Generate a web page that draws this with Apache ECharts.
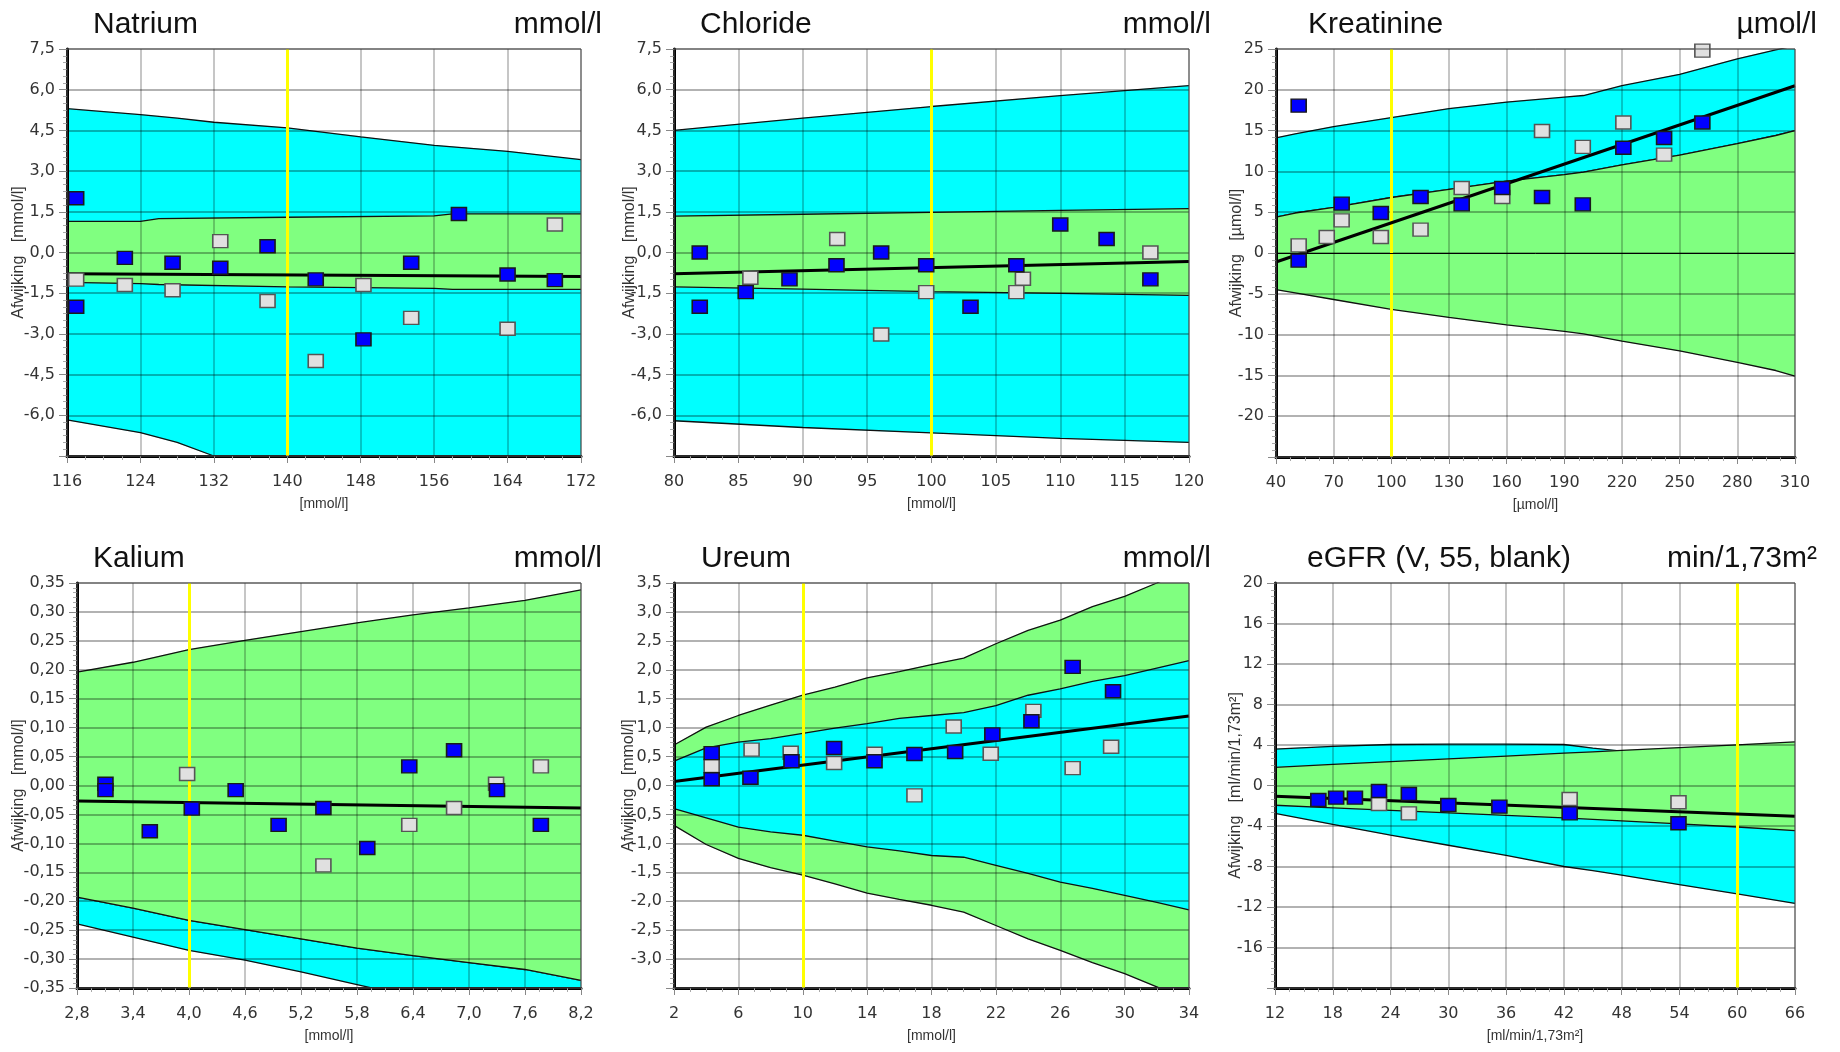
<!DOCTYPE html>
<html>
<head>
<meta charset="utf-8">
<script src="https://cdn.jsdelivr.net/npm/echarts@6/dist/echarts.min.js"></script>
<style>
html,body{margin:0;padding:0;background:#fff;}
#chart{width:1840px;height:1052px;}
</style>
</head>
<body>
<div id="chart"></div>
<script>
// ---------------- DATA ----------------
// Natrium
const natBandX   = [116, 124, 128, 132, 140, 148, 156, 164, 172];
const natOuterHi = [5.3, 5.08, 4.95, 4.8, 4.59, 4.26, 3.95, 3.73, 3.42];
const natOuterLo = [-6.17, -6.64, -7.0, -7.5, -8.3, -9.0, -9.6, -10.2, -10.8];
const natInnerX  = [116, 124, 126, 140, 156, 158, 172];
const natInnerHi = [1.15, 1.15, 1.25, 1.3, 1.35, 1.42, 1.42];
const natInnerLo = [-1.1, -1.15, -1.18, -1.27, -1.32, -1.36, -1.36];
const natRegX = [116, 172];
const natReg  = [-0.78, -0.88];
const natRef  = 140;
const natBlue = [[117.0, 2.0], [117.0, -2.0], [122.3, -0.2], [127.5, -0.38], [132.7, -0.56], [137.85, 0.23], [143.1, -0.99], [148.3, -3.2], [153.5, -0.38], [158.7, 1.42], [164.0, -0.81], [169.15, -1.02]];
const natGray = [[117.0, -1.0], [122.3, -1.2], [127.5, -1.39], [132.7, 0.42], [137.85, -1.79], [143.1, -4.0], [148.3, -1.2], [153.5, -2.41], [164.0, -2.81], [169.15, 1.03]];

// Chloride
const chlBandX   = [80, 90, 100, 110, 120];
const chlOuterHi = [4.5, 4.95, 5.38, 5.78, 6.15];
const chlOuterLo = [-6.2, -6.45, -6.65, -6.85, -7.0];
const chlInnerHi = [1.34, 1.41, 1.48, 1.55, 1.62];
const chlInnerLo = [-1.27, -1.35, -1.44, -1.51, -1.58];
const chlRegX = [80, 120];
const chlReg  = [-0.78, -0.33];
const chlRef  = 100;
const chlBlue = [[82.0, 0.0], [82.0, -2.0], [85.57, -1.46], [88.97, -0.99], [92.62, -0.47], [96.09, 0.0], [99.59, -0.47], [103.03, -2.0], [106.59, -0.47], [110.0, 1.03], [113.6, 0.5], [117.0, -0.99]];
const chlGray = [[85.93, -0.93], [92.68, 0.5], [96.09, -3.02], [99.59, -1.46], [106.59, -1.46], [107.1, -0.97], [117.0, 0.0]];

// Kreatinine
const kreBandX   = [40, 50, 70, 100, 130, 160, 190, 200, 220, 250, 280, 300, 310];
const kreOuterHi = [14.1, 14.6, 15.5, 16.6, 17.7, 18.5, 19.1, 19.3, 20.5, 21.9, 23.8, 24.9, 25.4];
const kreInnerHi = [4.4, 4.9, 5.6, 6.8, 7.8, 8.8, 9.6, 9.9, 10.8, 12.0, 13.4, 14.4, 15.0];
const kreInnerLo = [-4.5, -4.9, -5.7, -6.9, -7.9, -8.8, -9.6, -9.9, -10.8, -12.0, -13.4, -14.4, -15.1];
const kreRegX = [40, 310];
const kreReg  = [-1.1, 20.5];
const kreRef  = 100;
const kreBlue = [[51.8, 18.06], [51.8, -0.94], [74.15, 6.05], [94.5, 4.9], [115.2, 6.86], [136.6, 5.96], [157.7, 7.97], [178.4, 6.86], [199.6, 5.96], [220.7, 12.9], [241.9, 14.1], [261.8, 16.0]];
const kreGray = [[51.8, 0.94], [66.4, 1.96], [74.15, 4.0], [94.5, 1.96], [115.2, 2.86], [136.6, 7.97], [157.7, 6.86], [178.4, 14.95], [199.6, 13.0], [220.7, 16.0], [241.9, 12.05], [261.8, 24.8]];

// Kalium
const kalBandX   = [2.8, 3.4, 4.0, 4.6, 5.2, 5.8, 6.4, 7.0, 7.6, 8.2];
const kalInnerHi = [0.196, 0.213, 0.235, 0.251, 0.266, 0.281, 0.295, 0.307, 0.32, 0.338];
const kalInnerLo = [-0.193, -0.212, -0.233, -0.249, -0.265, -0.281, -0.294, -0.306, -0.318, -0.337];
const kalOuterLo = [-0.239, -0.262, -0.285, -0.302, -0.322, -0.344, -0.366, -0.386, -0.405, -0.425];
const kalRegX = [2.8, 8.2];
const kalReg  = [-0.027, -0.039];
const kalRef  = 4.0;
const kalBlue = [[3.105, 0.003], [3.105, -0.008], [3.58, -0.079], [4.03, -0.04], [4.50, -0.008], [4.96, -0.068], [5.44, -0.039], [5.91, -0.108], [6.36, 0.033], [6.84, 0.061], [7.30, -0.008], [7.77, -0.068]];
const kalGray = [[3.98, 0.02], [5.44, -0.138], [6.36, -0.068], [6.84, -0.039], [7.29, 0.003], [7.77, 0.033]];

// Ureum
const ureBandX   = [2, 4, 6, 8, 10, 12, 14, 16, 18, 20, 22, 24, 26, 28, 30, 32, 34];
const ureOuterHi = [0.70, 1.01, 1.21, 1.39, 1.56, 1.70, 1.86, 1.97, 2.09, 2.20, 2.45, 2.68, 2.86, 3.09, 3.27, 3.50, 3.75];
const ureOuterLo = [-0.69, -1.02, -1.26, -1.42, -1.55, -1.70, -1.86, -1.97, -2.07, -2.19, -2.42, -2.65, -2.85, -3.06, -3.25, -3.48, -3.72];
const ureInnerHi = [0.42, 0.65, 0.75, 0.81, 0.90, 0.99, 1.07, 1.16, 1.21, 1.26, 1.38, 1.56, 1.67, 1.80, 1.90, 2.03, 2.16];
const ureInnerLo = [-0.40, -0.56, -0.72, -0.80, -0.86, -0.96, -1.06, -1.13, -1.21, -1.24, -1.38, -1.52, -1.67, -1.78, -1.90, -2.02, -2.15];
const ureRegX = [2, 34];
const ureReg  = [0.07, 1.2];
const ureRef  = 10;
const ureBlue = [[4.34, 0.56], [4.34, 0.107], [6.75, 0.135], [9.30, 0.418], [11.95, 0.648], [14.46, 0.418], [16.94, 0.545], [19.47, 0.58], [21.78, 0.884], [24.21, 1.11], [26.77, 2.05], [29.28, 1.63]];
const ureGray = [[4.34, 0.337], [6.82, 0.62], [9.25, 0.567], [11.95, 0.389], [14.46, 0.55], [16.94, -0.17], [19.38, 1.02], [21.68, 0.55], [24.33, 1.29], [26.77, 0.30], [29.16, 0.67]];

// eGFR
const egfBandX   = [12, 18, 24, 30, 36, 42, 45, 48, 54, 60, 66];
const egfOuterHi = [3.6, 3.87, 4.05, 4.08, 4.08, 4.05, 3.7, 3.4, 3.2, 3.0, 2.8];
const egfOuterLo = [-2.75, -3.85, -4.9, -5.9, -6.9, -8.0, -8.4, -8.85, -9.8, -10.7, -11.65];
const egfInnerHi = [1.8, 2.08, 2.36, 2.63, 2.91, 3.19, 3.33, 3.47, 3.74, 4.02, 4.3];
const egfInnerLo = [-1.95, -2.2, -2.45, -2.7, -2.95, -3.2, -3.35, -3.5, -3.8, -4.1, -4.45];
const egfRegX = [12, 66];
const egfReg  = [-1.05, -3.03];
const egfRef  = 60;
const egfBlue = [[16.5, -1.43], [18.35, -1.2], [20.3, -1.2], [22.8, -0.54], [25.9, -0.84], [30.0, -1.93], [35.3, -2.09], [42.6, -2.75], [53.9, -3.73]];
const egfGray = [[22.8, -1.83], [25.9, -2.75], [42.6, -1.33], [53.9, -1.66]];

// ---------------- STYLE / LAYOUT ----------------
const CYAN = '#00ffff';
const GREEN = '#80ff80';
const LFONT = 'DejaVu Sans';
const TFONT = 'Liberation Sans';

const panels = [
  {title: 'Natrium', unit: 'mmol/l', xName: '[mmol/l]', yName: 'Afwijking   [mmol/l]',
   grid: {left: 67, top: 49, width: 514, height: 407}, titleLeft: 93, unitRight: 1238, titleTop: 10,
   x: {min: 116, max: 172, interval: 8, dec: 0}, y: {min: -7.5, max: 7.5, interval: 1.5, dec: 1, hideMin: true},
   xMargin: 18, xNameGap: 41, yNameGap: 40,
   bands: [{x: natBandX, lo: natOuterLo, hi: natOuterHi, color: CYAN}, {x: natInnerX, lo: natInnerLo, hi: natInnerHi, color: GREEN}],
   regX: natRegX, reg: natReg, ref: natRef, blue: natBlue, gray: natGray},
  {title: 'Chloride', unit: 'mmol/l', xName: '[mmol/l]', yName: 'Afwijking   [mmol/l]',
   grid: {left: 674, top: 49, width: 515, height: 407}, titleLeft: 700, unitRight: 629, titleTop: 10,
   x: {min: 80, max: 120, interval: 5, dec: 0}, y: {min: -7.5, max: 7.5, interval: 1.5, dec: 1, hideMin: true},
   xMargin: 18, xNameGap: 41, yNameGap: 36,
   bands: [{x: chlBandX, lo: chlOuterLo, hi: chlOuterHi, color: CYAN}, {x: chlBandX, lo: chlInnerLo, hi: chlInnerHi, color: GREEN}],
   regX: chlRegX, reg: chlReg, ref: chlRef, blue: chlBlue, gray: chlGray},
  {title: 'Kreatinine', unit: 'µmol/l', xName: '[µmol/l]', yName: 'Afwijking   [µmol/l]',
   grid: {left: 1276, top: 49, width: 519, height: 408}, titleLeft: 1308, unitRight: 23, titleTop: 10,
   x: {min: 40, max: 310, interval: 30, dec: 0}, y: {min: -25, max: 25, interval: 5, dec: 0, hideMin: true},
   xMargin: 18, xNameGap: 41, yNameGap: 31, zeroLine: true,
   bands: [{x: kreBandX, lo: kreInnerHi, hi: kreOuterHi, color: CYAN}, {x: kreBandX, lo: kreInnerLo, hi: kreInnerHi, color: GREEN}],
   regX: kreRegX, reg: kreReg, ref: kreRef, blue: kreBlue, gray: kreGray},
  {title: 'Kalium', unit: 'mmol/l', xName: '[mmol/l]', yName: 'Afwijking   [mmol/l]',
   grid: {left: 77, top: 583, width: 504, height: 405}, titleLeft: 93, unitRight: 1238, titleTop: 544,
   x: {min: 2.8, max: 8.2, interval: 0.6, dec: 1}, y: {min: -0.35, max: 0.35, interval: 0.05, dec: 2, hideMin: false},
   xMargin: 18, xNameGap: 41, yNameGap: 50,
   bands: [{x: kalBandX, lo: kalOuterLo, hi: kalInnerLo, color: CYAN}, {x: kalBandX, lo: kalInnerLo, hi: kalInnerHi, color: GREEN}],
   regX: kalRegX, reg: kalReg, ref: kalRef, blue: kalBlue, gray: kalGray},
  {title: 'Ureum', unit: 'mmol/l', xName: '[mmol/l]', yName: 'Afwijking   [mmol/l]',
   grid: {left: 674, top: 583, width: 515, height: 405}, titleLeft: 701, unitRight: 629, titleTop: 544,
   x: {min: 2, max: 34, interval: 4, dec: 0}, y: {min: -3.5, max: 3.5, interval: 0.5, dec: 1, hideMin: true},
   xMargin: 18, xNameGap: 41, yNameGap: 37,
   bands: [{x: ureBandX, lo: ureOuterLo, hi: ureOuterHi, color: GREEN}, {x: ureBandX, lo: ureInnerLo, hi: ureInnerHi, color: CYAN}],
   regX: ureRegX, reg: ureReg, ref: ureRef, blue: ureBlue, gray: ureGray},
  {title: 'eGFR (V, 55, blank)', unit: 'min/1,73m²', xName: '[ml/min/1,73m²]', yName: 'Afwijking   [ml/min/1,73m²]',
   grid: {left: 1275, top: 583, width: 520, height: 405}, titleLeft: 1307, unitRight: 23, titleTop: 544,
   x: {min: 12, max: 66, interval: 6, dec: 0}, y: {min: -20, max: 20, interval: 4, dec: 0, hideMin: true},
   xMargin: 18, xNameGap: 41, yNameGap: 31,
   bands: [{x: egfBandX, lo: egfOuterLo, hi: egfOuterHi, color: CYAN}, {x: egfBandX, lo: egfInnerLo, hi: egfInnerHi, color: GREEN}],
   regX: egfRegX, reg: egfReg, ref: egfRef, blue: egfBlue, gray: egfGray}
];

function fmt(dec) {
  return function (v) {
    if (Math.abs(v) < 1e-9) v = 0;
    return v.toFixed(dec).replace('.', ',');
  };
}

function bandRenderer(b) {
  return function (params, api) {
    if (params.dataIndex !== 0) return null;
    const pts = [];
    for (let k = 0; k < b.x.length; k++) pts.push(api.coord([b.x[k], b.hi[k]]));
    for (let k = b.x.length - 1; k >= 0; k--) pts.push(api.coord([b.x[k], b.lo[k]]));
    return {type: 'polygon', shape: {points: pts}, style: {fill: b.color, stroke: b.color, lineWidth: 0.5}};
  };
}

const option = {
  animation: false,
  backgroundColor: '#ffffff',
  title: [], grid: [], xAxis: [], yAxis: [], series: []
};

const titleStyle = {fontFamily: TFONT, fontSize: 30, fontWeight: 'normal', color: '#111'};
const labelStyle = {fontFamily: LFONT, fontSize: 16, color: '#333'};
const xNameStyle = {fontFamily: TFONT, fontSize: 14, color: '#333'};
const yNameStyle = {fontFamily: TFONT, fontSize: 16, color: '#333'};

panels.forEach(function (p, i) {
  option.title.push({text: p.title, left: p.titleLeft, top: p.titleTop, padding: 0, textStyle: titleStyle});
  option.title.push({text: p.unit, right: p.unitRight, top: p.titleTop, padding: 0, textStyle: titleStyle});

  option.grid.push({
    left: p.grid.left, top: p.grid.top, width: p.grid.width, height: p.grid.height,
    show: true, backgroundColor: 'transparent', borderColor: '#555', borderWidth: 1, z: 7,
    containLabel: false, outerBoundsMode: 'none'
  });

  option.xAxis.push({
    gridIndex: i, type: 'value', min: p.x.min, max: p.x.max, interval: p.x.interval, z: 3,
    name: p.xName, nameLocation: 'middle', nameGap: p.xNameGap, nameTextStyle: xNameStyle, nameMoveOverlap: false,
    axisLine: {show: true, onZero: false, lineStyle: {color: '#000', width: 3}},
    axisTick: {show: true, length: 7, lineStyle: {color: '#888', width: 1}},
    minorTick: {show: true, splitNumber: 4, length: 4, lineStyle: {color: '#aaa', width: 1}},
    splitLine: {show: true, lineStyle: {color: 'rgba(0,0,0,0.3)', width: 1.5}},
    minorSplitLine: {show: false},
    axisLabel: Object.assign({margin: p.xMargin, formatter: fmt(p.x.dec), showMinLabel: true, showMaxLabel: true}, labelStyle)
  });

  option.yAxis.push({
    gridIndex: i, type: 'value', min: p.y.min, max: p.y.max, interval: p.y.interval, z: 3,
    name: p.yName, nameLocation: 'middle', nameGap: p.yNameGap, nameTextStyle: yNameStyle, nameMoveOverlap: false,
    axisLine: {show: true, onZero: false, lineStyle: {color: '#000', width: 3}},
    axisTick: {show: true, length: 8, lineStyle: {color: '#888', width: 1}},
    minorTick: {show: true, splitNumber: 6, length: 4, lineStyle: {color: '#aaa', width: 1}},
    splitLine: {show: true, lineStyle: {color: 'rgba(0,0,0,0.3)', width: 2}},
    minorSplitLine: {show: false},
    axisLabel: Object.assign({margin: 12, formatter: fmt(p.y.dec), showMinLabel: !p.y.hideMin, showMaxLabel: true}, labelStyle)
  });

  // tolerance bands (filled areas) with their black boundary lines
  p.bands.forEach(function (b, j) {
    const zb = 1 + j;
    option.series.push({
      type: 'custom', xAxisIndex: i, yAxisIndex: i, clip: true, silent: true, z: zb,
      renderItem: bandRenderer(b),
      data: b.x.map(function (x, k) { return [x, b.lo[k], b.hi[k]]; }),
      encode: {x: 0, y: [1, 2]}
    });
    [b.lo, b.hi].forEach(function (arr) {
      option.series.push({
        type: 'line', xAxisIndex: i, yAxisIndex: i, silent: true, z: zb, clip: true,
        symbol: 'none', lineStyle: {color: '#111', width: 1.3},
        data: b.x.map(function (x, k) { return [x, arr[k]]; })
      });
    });
  });

  // reference (yellow) line + regression line
  const mlData = [{xAxis: p.ref}];
  if (p.zeroLine) mlData.push({yAxis: 0, lineStyle: {color: '#000', width: 1, type: 'solid'}});
  option.series.push({
    type: 'line', xAxisIndex: i, yAxisIndex: i, silent: true, z: 5, clip: true,
    symbol: 'none', lineStyle: {color: '#000', width: 3},
    data: p.regX.map(function (x, k) { return [x, p.reg[k]]; }),
    markLine: {
      silent: true, symbol: 'none', z: 4, animation: false,
      label: {show: false},
      lineStyle: {color: '#ffff00', width: 3, type: 'solid'},
      data: mlData
    }
  });

  // data points
  option.series.push({
    type: 'scatter', xAxisIndex: i, yAxisIndex: i, z: 6, symbol: 'rect', symbolSize: [15, 13],
    itemStyle: {color: '#e0e0e0', borderColor: '#555', borderWidth: 1.5, opacity: 1},
    data: p.gray
  });
  option.series.push({
    type: 'scatter', xAxisIndex: i, yAxisIndex: i, z: 6, symbol: 'rect', symbolSize: [15, 13],
    itemStyle: {color: '#0000ff', borderColor: '#1a1a1a', borderWidth: 1.5, opacity: 1},
    data: p.blue
  });
});

const chart = echarts.init(document.getElementById('chart'), null, {renderer: 'canvas'});
chart.setOption(option);
</script>
</body>
</html>
